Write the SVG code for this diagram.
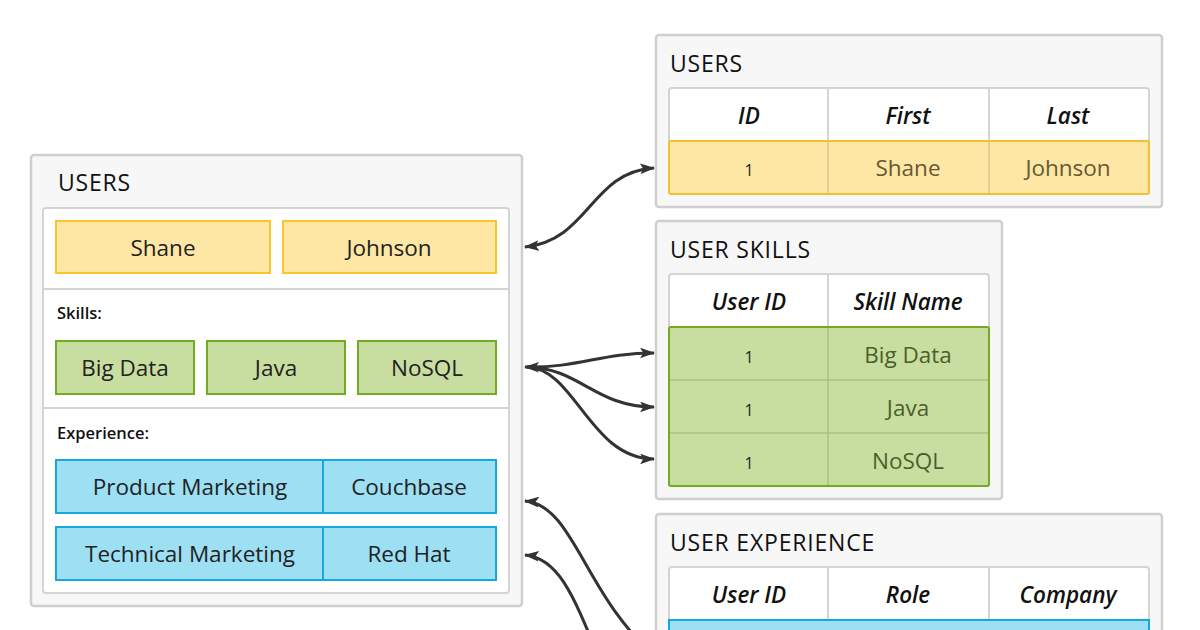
<svg xmlns="http://www.w3.org/2000/svg" width="1200" height="630" viewBox="0 0 1200 630">
<defs>
<marker id="ah" viewBox="0 0 14 10" refX="13" refY="5" markerWidth="15" markerHeight="11" markerUnits="userSpaceOnUse" orient="auto-start-reverse">
<path d="M0,0 L14,5 L0,10 L3,5 z" fill="#333"/>
</marker>
<style>
text{font-family:"Open Sans","Noto Sans",sans-serif;}
.panel{fill:#f7f7f7;stroke:#cfcfcf;stroke-width:2.5}
.inner{fill:#fff;stroke:#d4d4d4;stroke-width:2}
.title{font-size:23px;font-weight:500;fill:#111;letter-spacing:0.8px}
.lbl{font-size:16.5px;font-weight:600;fill:#111}
.yel{fill:#fee6a4;stroke:#f8c52a;stroke-width:2}
.grn{fill:#c8dea0;stroke:#72aa22;stroke-width:2}
.blu{fill:#9ddff3;stroke:#16a8dc;stroke-width:2}
.val{font-size:22.5px;fill:#222;text-anchor:middle}
.hdr{font-size:22.5px;font-weight:600;font-style:italic;fill:#111;text-anchor:middle}
.one{font-size:16px;fill:#222;text-anchor:middle}
.yv{font-size:22.5px;fill:#665834;text-anchor:middle}
.gv{font-size:22.5px;fill:#4b5e2c;text-anchor:middle}
.conn{fill:none;stroke:#333;stroke-width:3}
.sep{stroke:#d4d4d4;stroke-width:2}
</style>
</defs>
<rect width="1200" height="630" fill="#fff"/>

<g id="users-doc">
<rect class="panel" x="31" y="155" width="491" height="451" rx="3"/>
<text class="title" x="58" y="191">USERS</text>
<rect class="inner" x="43" y="208" width="466" height="385" rx="3"/>
<line class="sep" x1="44" y1="289" x2="508" y2="289"/>
<line class="sep" x1="44" y1="408" x2="508" y2="408"/>
<rect class="yel" x="56" y="221" width="214" height="52"/>
<text class="val" x="163" y="256">Shane</text>
<rect class="yel" x="283" y="221" width="213" height="52"/>
<text class="val" x="389" y="256">Johnson</text>
<text class="lbl" x="57" y="319">Skills:</text>
<rect class="grn" x="56" y="341" width="138" height="53"/>
<text class="val" x="125" y="376">Big Data</text>
<rect class="grn" x="207" y="341" width="138" height="53"/>
<text class="val" x="276" y="376">Java</text>
<rect class="grn" x="358" y="341" width="138" height="53"/>
<text class="val" x="427" y="376">NoSQL</text>
<text class="lbl" x="57" y="439">Experience:</text>
<rect class="blu" x="56" y="460" width="440" height="53"/>
<line x1="323" y1="460" x2="323" y2="513" stroke="#16a8dc" stroke-width="2"/>
<text class="val" x="190" y="495">Product Marketing</text>
<text class="val" x="409" y="495">Couchbase</text>
<rect class="blu" x="56" y="527" width="440" height="53"/>
<line x1="323" y1="527" x2="323" y2="580" stroke="#16a8dc" stroke-width="2"/>
<text class="val" x="190" y="562">Technical Marketing</text>
<text class="val" x="409" y="562">Red Hat</text>
</g>

<g id="users-table">
<rect class="panel" x="656" y="35" width="506" height="172" rx="3"/>
<text class="title" x="670" y="72">USERS</text>
<rect class="inner" x="669" y="88" width="480" height="106" rx="3"/>
<line class="sep" x1="828" y1="88" x2="828" y2="141"/>
<line class="sep" x1="989" y1="88" x2="989" y2="141"/>
<text class="hdr" x="749" y="124">ID</text>
<text class="hdr" x="908" y="124">First</text>
<text class="hdr" x="1068" y="124">Last</text>
<rect x="669" y="141" width="480" height="53" rx="2" fill="#fee6a4" stroke="#f1c033" stroke-width="2"/>
<line x1="828" y1="142" x2="828" y2="193" stroke="#e2cf92" stroke-width="2"/>
<line x1="989" y1="142" x2="989" y2="193" stroke="#e2cf92" stroke-width="2"/>
<text class="one" x="749" y="176">1</text>
<text class="yv" x="908" y="176">Shane</text>
<text class="yv" x="1068" y="176">Johnson</text>
</g>

<g id="user-skills-table">
<rect class="panel" x="656" y="221" width="346" height="278" rx="3"/>
<text class="title" x="670" y="258">USER SKILLS</text>
<rect class="inner" x="669" y="274" width="320" height="212" rx="3"/>
<line class="sep" x1="828" y1="274" x2="828" y2="327"/>
<text class="hdr" x="749" y="310">User ID</text>
<text class="hdr" x="908" y="310">Skill Name</text>
<rect x="669" y="327" width="320" height="159" rx="2" fill="#c8dea0" stroke="#72aa22" stroke-width="2"/>
<line x1="670" y1="380" x2="988" y2="380" stroke="#a9c27e" stroke-width="1.5"/>
<line x1="670" y1="433" x2="988" y2="433" stroke="#a9c27e" stroke-width="1.5"/>
<line x1="828" y1="328" x2="828" y2="485" stroke="#a9c27e" stroke-width="1.5"/>
<text class="one" x="749" y="363">1</text>
<text class="gv" x="908" y="363">Big Data</text>
<text class="one" x="749" y="416">1</text>
<text class="gv" x="908" y="416">Java</text>
<text class="one" x="749" y="469">1</text>
<text class="gv" x="908" y="469">NoSQL</text>
</g>

<g id="user-experience-table">
<rect class="panel" x="656" y="514" width="506" height="200" rx="3"/>
<text class="title" x="670" y="551">USER EXPERIENCE</text>
<rect class="inner" x="669" y="567" width="480" height="140" rx="3"/>
<line class="sep" x1="828" y1="567" x2="828" y2="620"/>
<line class="sep" x1="989" y1="567" x2="989" y2="620"/>
<text class="hdr" x="749" y="603">User ID</text>
<text class="hdr" x="908" y="603">Role</text>
<text class="hdr" x="1068" y="603">Company</text>
<rect x="669" y="620" width="480" height="53" fill="#9ddff3" stroke="#16a8dc" stroke-width="2"/>
</g>

<g id="connectors">
<path class="conn" marker-start="url(#ah)" marker-end="url(#ah)" d="M525,247 C590,240 590,172 654,168"/>
<path class="conn" marker-start="url(#ah)" marker-end="url(#ah)" d="M525,367 C580,368 600,353 654,353"/>
<path class="conn" marker-end="url(#ah)" d="M527,367 C580,368 595,407 654,407"/>
<path class="conn" marker-end="url(#ah)" d="M527,367 C575,368 590,459 654,459"/>
<path class="conn" marker-start="url(#ah)" d="M525,501 C575,505 585,600 660,660"/>
<path class="conn" marker-start="url(#ah)" d="M525,555 C560,558 575,600 600,660"/>
</g>
</svg>
